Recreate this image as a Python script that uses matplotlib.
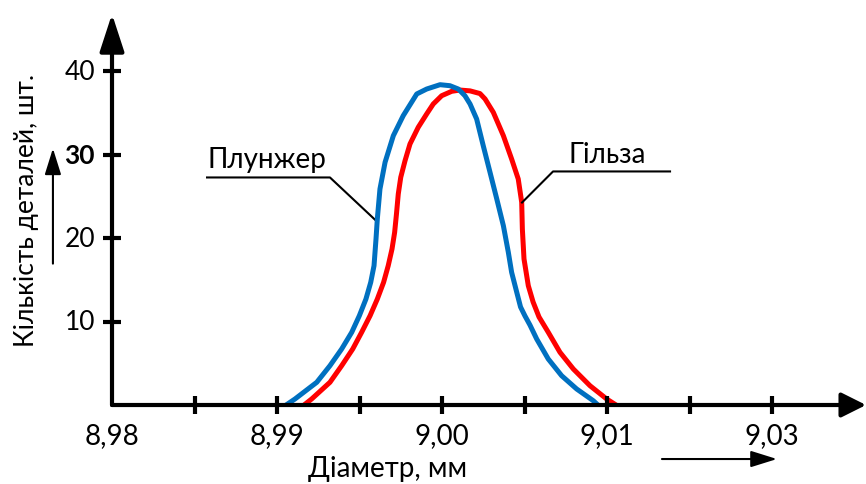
import matplotlib
matplotlib.use("Agg")
import matplotlib.pyplot as plt

plt.rcParams['font.family'] = ['Lato', 'Open Sans', 'DejaVu Sans']

#### Дані (діаметр, мм / кількість деталей, шт.)

# Плунжер
x_plunzher = [8.99055, 8.99109, 8.99241, 8.99321, 8.99392, 8.99453, 8.99499, 8.99539,
              8.99568, 8.99588, 8.99600, 8.99608, 8.99624, 8.99655, 8.99705, 8.99765,
              8.99847, 8.99907, 8.99988, 9.00048, 9.00099, 9.00139, 9.00170, 9.00210,
              9.00250, 9.00291, 9.00332, 9.00372, 9.00402, 9.00422, 9.00453, 9.00476,
              9.00503, 9.00533, 9.00574, 9.00644, 9.00725, 9.00816, 9.00917, 9.00945]
y_plunzher = [0.0, 0.72, 2.72, 4.71, 6.71, 8.71, 10.69, 12.69,
              14.69, 16.68, 19.88, 22.28, 25.87, 29.07, 32.25, 34.65,
              37.25, 37.84, 38.36, 38.24, 37.84, 37.04, 36.05, 34.25,
              31.05, 27.87, 24.67, 21.47, 18.29, 15.89, 13.50, 11.74,
              10.66, 9.58, 7.90, 5.51, 3.51, 1.92, 0.51, 0.0]

# Гільза
x_gilza = [8.99164, 8.99210, 8.99321, 8.99392, 8.99459, 8.99513, 8.99564, 8.99608,
           8.99646, 8.99674, 8.99697, 8.99713, 8.99724, 8.99735, 8.99750, 8.99776,
           8.99806, 8.99856, 8.99907, 8.99947, 8.99998, 9.00059, 9.00109, 9.00170,
           9.00230, 9.00261, 9.00311, 9.00372, 9.00422, 9.00462, 9.00483, 9.00487,
           9.00497, 9.00523, 9.00552, 9.00588, 9.00644, 9.00715, 9.00796, 9.00897,
           9.00998, 9.01055]
y_gilza = [0.0, 0.72, 2.72, 4.71, 6.71, 8.71, 10.69, 12.69,
           14.69, 16.68, 18.68, 20.68, 22.87, 25.27, 27.27, 29.26,
           31.26, 33.26, 34.85, 36.05, 37.04, 37.57, 37.72, 37.62,
           37.30, 36.65, 35.05, 32.25, 29.46, 27.07, 24.28, 21.08,
           17.49, 14.29, 12.34, 10.54, 8.71, 6.31, 4.31, 2.31,
           0.72, 0.0]

x_ticks = [8.985, 8.99, 8.995, 9.00, 9.005, 9.01, 9.015, 9.02]
x_labels_pos = [8.98, 8.99, 9.00, 9.01, 9.02]
x_labels = ['8,98', '8,99', '9,00', '9,01', '9,03']
y_ticks = [10, 20, 30, 40]
y_labels = ['10', '20', '30', '40']

blue = '#0070C0'
red = '#FF0000'

fig = plt.figure(figsize=(8.66, 4.85), dpi=100)
ax = fig.add_axes([0, 0, 1, 1])
ax.set_xlim(8.973212, 9.025697)
ax.set_ylim(-9.461, 48.623)
ax.axis('off')

# криві
ax.plot(x_plunzher, y_plunzher, color=blue, lw=3.6, solid_joinstyle='round', solid_capstyle='butt', zorder=3)
ax.plot(x_gilza, y_gilza, color=red, lw=3.6, solid_joinstyle='round', solid_capstyle='butt', zorder=2)

# осі зі стрілками
ax.annotate('', xy=(9.0257, 0), xytext=(8.98, 0),
            arrowprops=dict(arrowstyle='-|>,head_length=1.5,head_width=0.75', lw=3,
                            color='k', shrinkA=0, shrinkB=0), zorder=5)
ax.annotate('', xy=(8.98, 46.83), xytext=(8.98, 0),
            arrowprops=dict(arrowstyle='-|>,head_length=2.3,head_width=0.75', lw=3,
                            color='k', shrinkA=0, shrinkB=0), zorder=5)

# поділки
ax.plot(x_ticks, [0] * len(x_ticks), ls='none', marker='|', ms=12.5, mew=3, color='k', zorder=6)
ax.plot([8.98] * len(y_ticks), y_ticks, ls='none', marker='_', ms=12.5, mew=3, color='k', zorder=6)

for xv, lab in zip(x_labels_pos, x_labels):
    ax.text(xv, -2.0, lab, ha='center', va='top', fontsize=20)
for yv, lab in zip(y_ticks, y_labels):
    ax.text(8.97897, yv, lab, ha='right', va='center', fontsize=19,
            fontweight='bold' if yv == 30 else 'normal')

ax.text(8.97479, 23.47, 'Кількість деталей, шт.', rotation=90, ha='center', va='center', fontsize=19)
ax.text(8.99673, -8.5, 'Діаметр, мм', ha='center', va='baseline', fontsize=20)

# маленькі стрілки
ax.annotate('', xy=(8.97642, 30.73), xytext=(8.97642, 16.93),
            arrowprops=dict(arrowstyle='-|>,head_length=1.6,head_width=0.5', lw=1.5,
                            color='k', shrinkA=0, shrinkB=0))
ax.annotate('', xy=(9.0203, -6.47), xytext=(9.01333, -6.47),
            arrowprops=dict(arrowstyle='-|>,head_length=1.6,head_width=0.5', lw=1.5,
                            color='k', shrinkA=0, shrinkB=0))

# підписи кривих
ax.plot([8.98576, 8.99321, 8.99606], [27.25, 27.25, 21.97], color='k', lw=1.5)
ax.text(8.98576, 28.5, 'Плунжер', ha='left', va='baseline', fontsize=20)
ax.plot([9.01382, 9.00673, 9.00485], [27.97, 27.97, 24.25], color='k', lw=1.5)
ax.text(9.00764, 29.1, 'Гільза', ha='left', va='baseline', fontsize=20)

fig.savefig('out.png', dpi=100)
